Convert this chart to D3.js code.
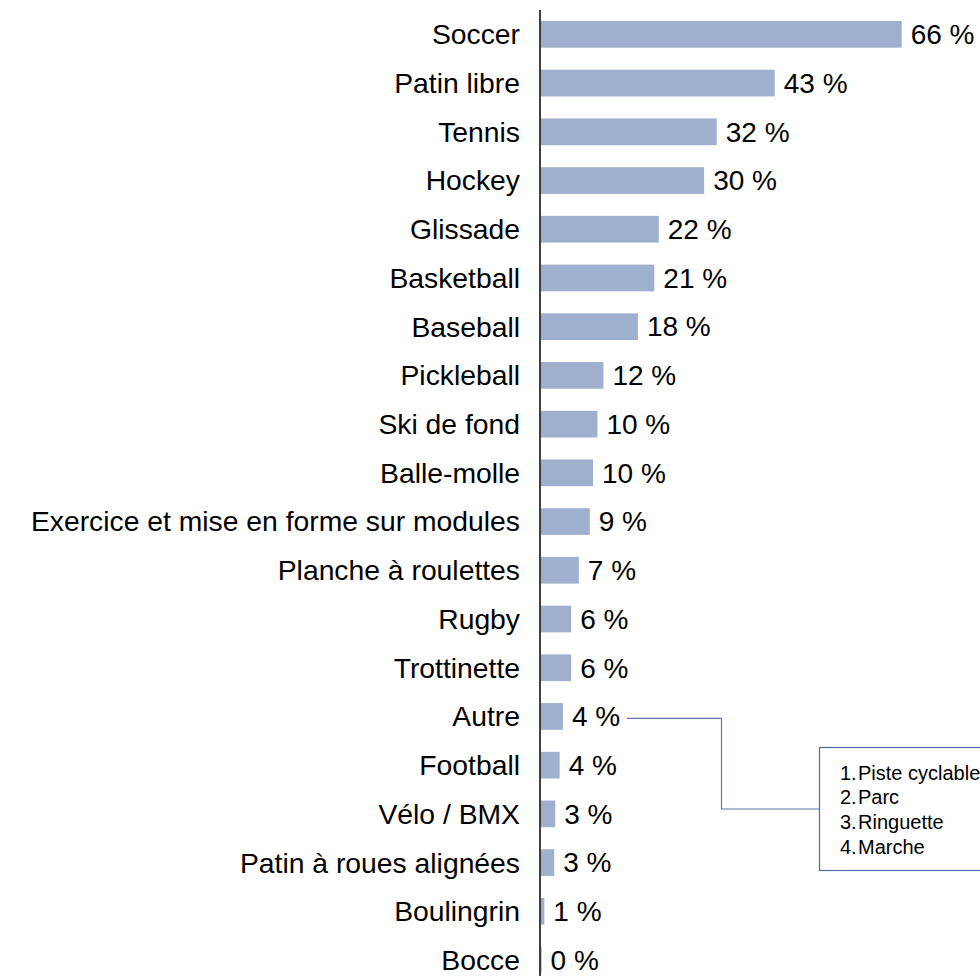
<!DOCTYPE html>
<html>
<head>
<meta charset="utf-8">
<script src="https://cdn.jsdelivr.net/npm/d3@7"></script>
<style>
  html, body { margin: 0; padding: 0; background: #fff; }
  svg { display: block; }
  text { font-family: "Liberation Sans", Arial, sans-serif; fill: #000; }
</style>
</head>
<body>
<svg id="chart" width="980" height="976"></svg>
<script>
const categories = ["Soccer", "Patin libre", "Tennis", "Hockey", "Glissade", "Basketball", "Baseball",
  "Pickleball", "Ski de fond", "Balle-molle", "Exercice et mise en forme sur modules",
  "Planche à roulettes", "Rugby", "Trottinette", "Autre", "Football", "Vélo / BMX",
  "Patin à roues alignées", "Boulingrin", "Bocce"];
const values = [66, 42.8, 32.2, 29.9, 21.6, 20.8, 17.8, 11.5, 10.4, 9.6, 9.0, 7.0, 5.6, 5.6, 4.1, 3.5, 2.7, 2.5, 0.7, 0.2];
const autreDetails = ["Piste cyclable", "Parc", "Ringuette", "Marche"];

const data = categories.map((c, i) => ({ cat: c, v: values[i] }));
const svg = d3.select("#chart");

const x = d3.scaleLinear().domain([0, d3.max(values)]).range([540.5, 901.7]);
const y = d3.scaleBand().domain(categories).range([10, 984.4]).paddingInner(0.452).paddingOuter(0.226);

// bars
svg.append("g").selectAll("rect").data(data).join("rect")
  .attr("x", x(0))
  .attr("y", d => y(d.cat))
  .attr("width", d => x(d.v) - x(0))
  .attr("height", y.bandwidth())
  .attr("fill", "#9eb0ce");

// value labels
svg.append("g").selectAll("text").data(data).join("text")
  .attr("x", d => x(d.v) + 9)
  .attr("y", d => y(d.cat) + y.bandwidth() / 2)
  .attr("dy", "0.35em")
  .attr("font-size", 28)
  .text(d => Math.round(d.v) + " %");

// category axis
const axis = d3.axisLeft(y).tickSize(0).tickPadding(20);
const gAxis = svg.append("g").attr("transform", `translate(${x(0) - 0.5},0)`).call(axis);
gAxis.select(".domain").remove();
gAxis.selectAll("text").attr("font-size", 28.3).attr("font-family", "Liberation Sans, Arial, sans-serif").attr("fill", "#000").attr("dy", "0.35em");
svg.append("line")
  .attr("x1", x(0) - 0.5).attr("x2", x(0) - 0.5)
  .attr("y1", 10).attr("y2", 976)
  .attr("stroke", "#111").attr("stroke-width", 1.6);

// annotation for "Autre"
const autre = data.find(d => d.cat === "Autre");
const ay = y("Autre") + y.bandwidth() / 2 + 2;
const boxX = 819.5, boxY = 747.5, boxH = 123;
const startX = x(autre.v) + 64;
const elbowX = 721.5;
const boxMid = boxY + boxH / 2;
svg.append("path")
  .attr("d", `M${startX},${ay} H${elbowX} V${boxMid} H${boxX}`)
  .attr("fill", "none").attr("stroke", "#5b78a6").attr("stroke-width", 1.2);
svg.append("rect")
  .attr("x", boxX).attr("y", boxY).attr("width", 220).attr("height", boxH)
  .attr("fill", "#fff").attr("stroke", "#4f6c9c").attr("stroke-width", 1.2);
const gBox = svg.append("g");
autreDetails.forEach((t, i) => {
  gBox.append("text").attr("x", 840).attr("y", 779.5 + i * 24.7).attr("font-size", 20).text((i + 1) + ".");
  gBox.append("text").attr("x", 858).attr("y", 779.5 + i * 24.7).attr("font-size", 20).text(t);
});
</script>
</body>
</html>
